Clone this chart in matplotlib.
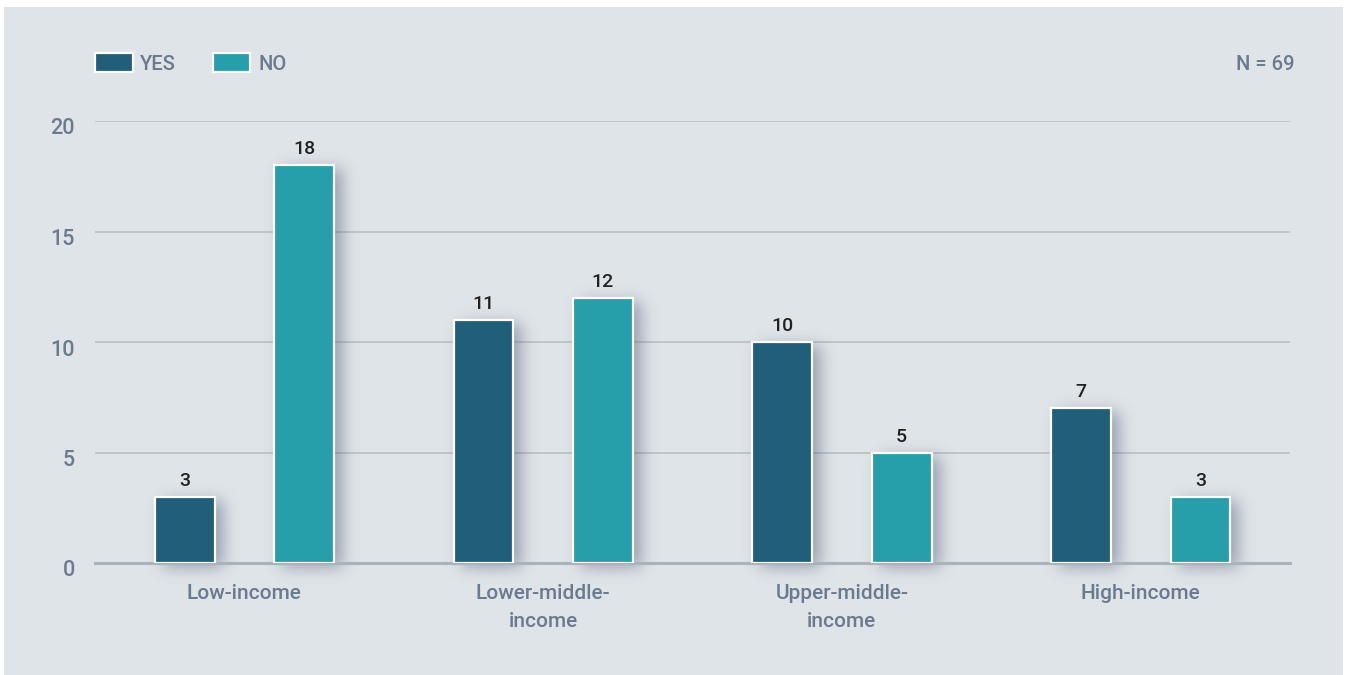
import matplotlib
matplotlib.use("Agg")
import matplotlib.pyplot as plt
from matplotlib.patches import Rectangle
from matplotlib.colors import to_rgb
import numpy as np

# ---- data ----
categories = ["Low-income", "Lower-middle-\nincome", "Upper-middle-\nincome", "High-income"]
yes_values = [3, 11, 10, 7]
no_values = [18, 12, 5, 3]
y_ticks = [0, 5, 10, 15, 20]
series_names = ["YES", "NO"]
sample_note = "N = 69"

# ---- style ----
W, H, DPI = 1350, 675, 100
BG = "#dfe4e8"
YES_C = "#215e7a"
NO_C = "#279faa"
TICK_C = "#6b7a8e"
VAL_C = "#222222"
GRID_C = "#b4bcc4"
BASE_C = "#a9b3bc"
SHADOW_C = "#4c5872"
plt.rcParams["font.family"] = ["Roboto", "DejaVu Sans"]


def fx(px):
    return px / W


def fy(py):
    return 1 - py / H


fig = plt.figure(figsize=(W / DPI, H / DPI), dpi=DPI, facecolor="white")

# panel background
fig.patches.append(Rectangle((fx(4), 0), fx(1343) - fx(4), fy(7), transform=fig.transFigure,
                             facecolor=BG, edgecolor="none", zorder=-10))

ax_l, ax_r, ax_t, ax_b = 95, 1290, 121, 563
ax = fig.add_axes([fx(ax_l), fy(ax_b), fx(ax_r) - fx(ax_l), fy(ax_t) - fy(ax_b)])
ax.set_facecolor("none")
x0_lim, x1_lim = -0.5, len(categories) - 0.5
y0_lim, y1_lim = 0, 20
ax.set_xlim(x0_lim, x1_lim)
ax.set_ylim(y0_lim, y1_lim)
for s in ax.spines.values():
    s.set_visible(False)
ax.set_xticks([])
ax.set_yticks([])

# gridlines and y tick labels
for t in y_ticks:
    if t == 0:
        ax.axhline(t, color=BASE_C, lw=2.2, zorder=3, clip_on=False)
    else:
        ax.axhline(t, color=GRID_C, lw=1.1, zorder=1)
    ax.annotate(str(t), xy=(0, t), xycoords=("axes fraction", "data"),
                xytext=(-20, -8), textcoords="offset pixels",
                ha="right", va="center", fontsize=15.5, color=TICK_C, fontweight="medium")

x = np.arange(len(categories))
bw = 0.2
off = 0.2

# ---- soft drop shadow rendered as a blurred image behind the bars ----
aw, ah = ax_r - ax_l, ax_b - ax_t
px_x = (x1_lim - x0_lim) / aw
px_y = (y1_lim - y0_lim) / ah
pad_b = 40                      # rows below the baseline
pad_t = 10
rows = ah + pad_b + pad_t
mask = np.zeros((rows, aw))


def add_shadow_rect(xc, h, dx=8, dy=4):
    c0 = int(round((xc - bw / 2 - x0_lim) / px_x)) + dx
    c1 = int(round((xc + bw / 2 - x0_lim) / px_x)) + dx
    top = pad_t + int(round((y1_lim - h) / px_y)) + dy
    bot = pad_t + ah + dy
    mask[max(top, 0):min(bot, rows), max(c0, 0):min(c1, aw)] = 1.0


for xi, v in zip(x - off, yes_values):
    add_shadow_rect(xi, v)
for xi, v in zip(x + off, no_values):
    add_shadow_rect(xi, v)


def blur(a, sigma):
    r = int(3 * sigma)
    k = np.exp(-0.5 * (np.arange(-r, r + 1) / sigma) ** 2)
    k /= k.sum()
    a = np.apply_along_axis(lambda m: np.convolve(m, k, mode="same"), 1, a)
    a = np.apply_along_axis(lambda m: np.convolve(m, k, mode="same"), 0, a)
    return a


soft = blur(mask, 8.0)
rgba = np.zeros((rows, aw, 4))
rgba[..., :3] = to_rgb(SHADOW_C)
rgba[..., 3] = np.clip(soft, 0, 1) * 0.5
ax.imshow(rgba, extent=(x0_lim, x1_lim, y0_lim - pad_b * px_y, y1_lim + pad_t * px_y),
          aspect="auto", interpolation="bilinear", zorder=2, clip_on=False)
ax.set_xlim(x0_lim, x1_lim)
ax.set_ylim(y0_lim, y1_lim)

ax.bar(x - off, yes_values, bw, color=YES_C, edgecolor="white", linewidth=1.6, zorder=4)
ax.bar(x + off, no_values, bw, color=NO_C, edgecolor="white", linewidth=1.6, zorder=4)

for xi, v in zip(x - off, yes_values):
    ax.annotate(str(v), xy=(xi, v), xytext=(0, 7), textcoords="offset pixels",
                ha="center", va="bottom", fontsize=14, color=VAL_C, zorder=5,
                fontweight="medium")
for xi, v in zip(x + off, no_values):
    ax.annotate(str(v), xy=(xi, v), xytext=(0, 7), textcoords="offset pixels",
                ha="center", va="bottom", fontsize=14, color=VAL_C, zorder=5,
                fontweight="medium")

for xi, c in zip(x, categories):
    ax.annotate(c, xy=(xi, 0), xytext=(0, -21), textcoords="offset pixels",
                ha="center", va="top", fontsize=15, color=TICK_C, linespacing=1.6,
                fontweight="medium")

# legend
leg = [(95, 133, 140, series_names[0], YES_C), (213, 250, 258, series_names[1], NO_C)]
for x0, x1, tx, name, col in leg:
    fig.patches.append(Rectangle((fx(x0), fy(72)), fx(x1) - fx(x0), fy(53) - fy(72),
                                 transform=fig.transFigure, facecolor=col,
                                 edgecolor="white", linewidth=1.6))
    fig.text(fx(tx), fy(64), name, ha="left", va="center", fontsize=14.5, color=TICK_C,
             fontweight="medium")

fig.text(fx(1295), fy(64), sample_note, ha="right", va="center", fontsize=14.5, color=TICK_C,
         fontweight="medium")

fig.savefig("out.png", dpi=DPI, facecolor="white")
